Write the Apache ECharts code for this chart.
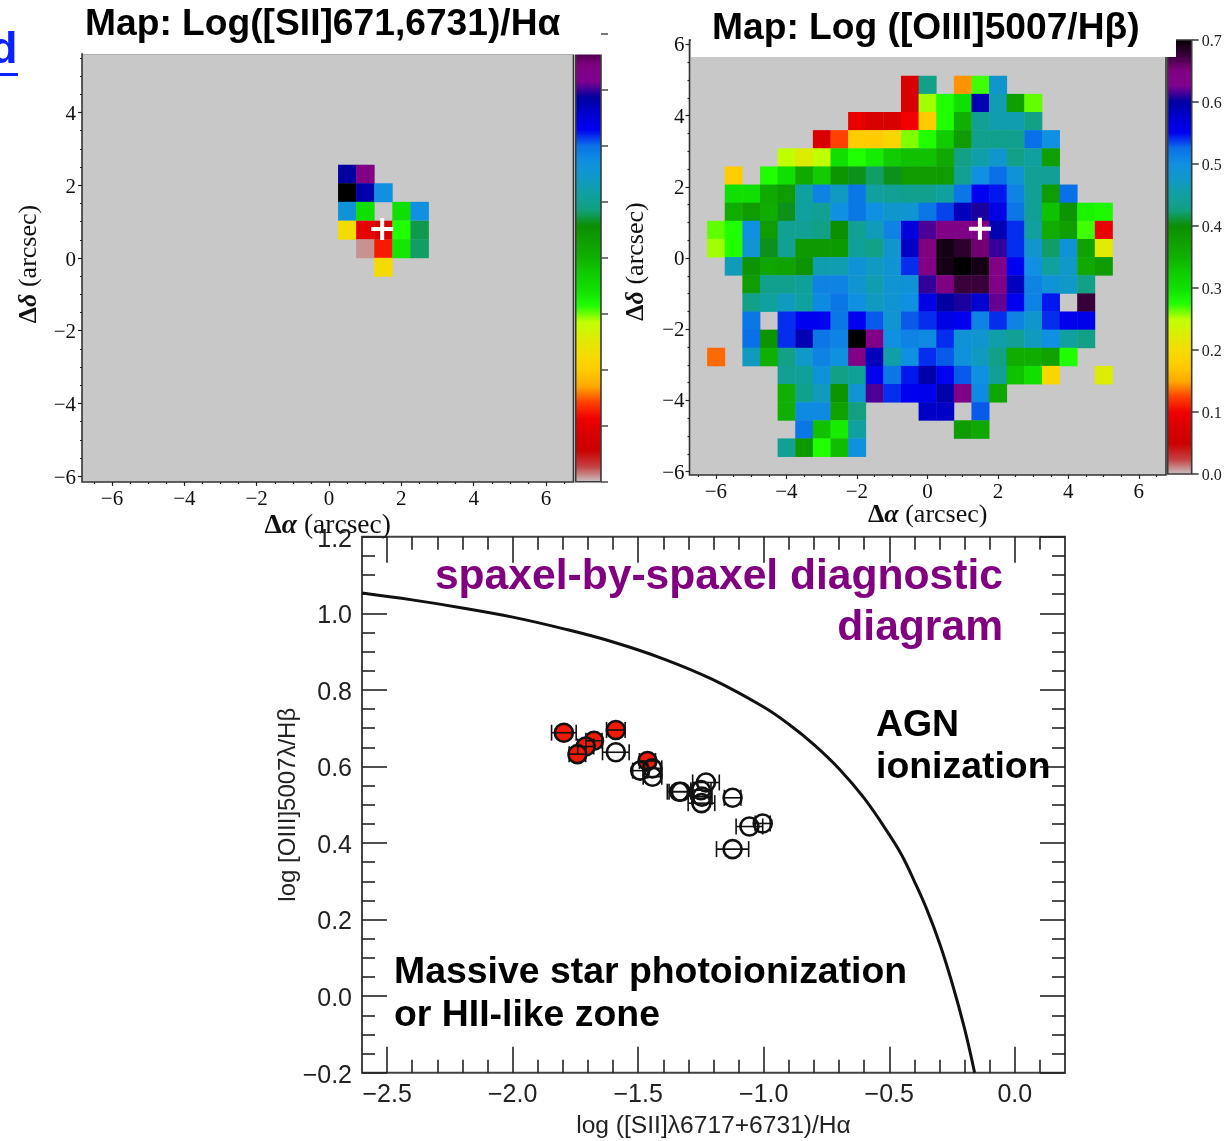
<!DOCTYPE html>
<html><head><meta charset="utf-8">
<style>html,body{margin:0;padding:0;background:#fff}#c{width:1227px;height:1141px}</style>
<script src="https://cdn.jsdelivr.net/npm/echarts@6/dist/echarts.min.js"></script>
</head><body><div id="c"></div>
<script>
// ---------- colour scale ----------
const scaleColors = ['#c8c8c8','#c44040','#cc0000','#d80000','#f00000','#ff4000','#ffa800','#ffcc00','#f5dc00','#dcec00','#c0ff00','#20ff00','#10e000','#10cc00','#10b000','#0f9f00','#0a8f00','#12a080','#10a0a0','#1098c8','#1090e0','#0a70e8','#0000f0','#0000d0','#0000a0','#800090','#800080','#380038','#000000'];
const scaleTicks = [0,0.1,0.2,0.3,0.4,0.5,0.6,0.7];
const leftBarTicks = [0,0.0875,0.175,0.2625,0.35,0.4375,0.525,0.6125,0.7];

// ---------- left map: [SII]/Halpha ----------
const leftX = [0.5,1,1.5,2,2.5];
const leftY = [2.31,1.80,1.29,0.77,0.26,-0.25];
const leftRows = [
  [0.6,0.64,null,null,null],
  [0.7,0.595,0.5,null,null],
  [0.49,0.3,null,0.3,0.5],
  [0.2,0.09,0.07,0.275,0.415],
  [null,0.01,0.11,0.295,0.42],
  [null,null,0.2,null,null]
];
const leftCross = [[1.47,0.8]];

// ---------- right map: [OIII]/Hbeta ----------
const rightX = [-6,-5.5,-5,-4.5,-4,-3.5,-3,-2.5,-2,-1.5,-1,-0.5,0,0.5,1,1.5,2,2.5,3,3.5,4,4.5,5];
const rightY = [4.865,4.356,3.846,3.337,2.827,2.318,1.809,1.299,0.79,0.28,-0.229,-0.739,-1.248,-1.757,-2.267,-2.776,-3.285,-3.795,-4.304,-4.814,-5.323];
const N = null;
const rightRows = [
  [N,N,N,N,N,N,N,N,N,N,N,.075,.43,N,.145,.27,.48,N,N,N,N,N,N],
  [N,N,N,N,N,N,N,N,N,N,N,.075,.255,.275,.3,.59,.46,.375,.265,N,N,N,N],
  [N,N,N,N,N,N,N,N,.09,.075,.075,.1,.175,.275,.35,.44,.46,.46,.43,N,N,N,N],
  [N,N,N,N,N,N,.075,.125,.175,.175,.19,.26,.275,.325,.38,.435,.435,.435,.525,.5,N,N,N],
  [N,N,N,N,.25,.225,.25,.3,.275,.29,.325,.335,.335,.36,.43,.455,.48,.43,.45,.375,N,N,N],
  [N,.175,N,.275,.3,.36,.325,.39,.405,.42,.405,.38,.38,.38,.44,.5,.525,.49,.44,.44,N,N,N],
  [N,.3,.3,.36,.38,.45,.51,.47,.52,.45,.44,.435,.435,.45,.52,.55,.545,.51,.44,.38,.525,N,N],
  [N,.355,.38,.355,.405,.45,.44,.5,.52,.5,.48,.485,.52,.535,.585,.605,.56,.52,.44,.335,.39,.285,.28],
  [.265,.275,.5,.38,.44,.44,.43,.4,.44,.465,.51,.565,.615,.64,.64,.645,.59,.54,.45,.355,.375,.27,.095],
  [.255,.275,.485,.405,.44,.385,.385,.385,.445,.43,.48,.58,.65,.69,.68,.655,.61,.54,.48,.42,.49,.37,.22],
  [N,.465,.39,.365,.37,.39,.46,.46,.49,.47,.485,.54,.64,.69,.7,.69,.64,.55,.5,.45,.475,.36,.38],
  [N,N,.38,.435,.435,.445,.51,.51,.485,.46,.485,.49,.61,.645,.675,.675,.64,.585,.51,.49,.475,.43,N],
  [N,N,.43,.45,.47,.45,.505,.52,.5,.47,.485,.5,.56,.6,.605,.575,.62,.55,.51,.545,N,.675,N],
  [N,N,.52,N,.54,.55,.55,.52,.55,.53,.485,.53,.54,.56,.55,.51,.54,.51,.48,.54,.555,.555,N],
  [N,N,.525,.39,.54,.59,.52,.51,.7,.64,.5,.51,.505,.54,.49,.48,.455,.44,.47,.5,.45,.43,N],
  [.135,N,.47,.35,.43,.475,.51,.5,.64,.585,.455,.5,.54,.53,.495,.47,.43,.355,.355,.37,.275,N,N],
  [N,N,N,N,.44,.445,.495,.43,.445,.555,.52,.545,.595,.55,.53,.5,.44,.335,.3,.19,N,N,.225],
  [N,N,N,N,.35,.435,.47,.39,.485,.615,.54,.55,.555,.595,.64,.505,.365,N,N,N,N,N,N],
  [N,N,N,N,.35,.505,.505,.37,.425,N,N,N,.58,.58,N,.53,N,N,N,N,N,N,N],
  [N,N,N,N,N,.52,.335,.29,.45,N,N,N,N,N,.38,.36,N,N,N,N,N,N,N],
  [N,N,N,N,.44,.385,.275,.34,.495,N,N,N,N,N,N,N,N,N,N,N,N,N,N]
];
const rightCross = [[1.49,0.82]];

// ---------- map axis ticks ----------
const mapMajor = [-6,-4,-2,0,2,4,6];
const mapMinor = [-6.5,-5.5,-5,-4.5,-3.5,-3,-2.5,-1.5,-1,-0.5,0.5,1,1.5,2.5,3,3.5,4.5,5,5.5,6.5];
const mapMajorY = [-6,-4,-2,0,2,4];
const mapMajorYR = [-6,-4,-2,0,2,4,6];
const mapMinorYL = [-5.5,-5,-4.5,-3.5,-3,-2.5,-1.5,-1,-0.5,0.5,1,1.5,2.5,3,3.5,4.5,5,5.5];
const mapMinorYR = [-5.5,-5,-4.5,-3.5,-3,-2.5,-1.5,-1,-0.5,0.5,1,1.5,2.5,3,3.5,4.5,5,5.5];

// ---------- diagnostic diagram ----------
const redX   = [-1.796,-1.589,-1.676,-1.709,-1.742,-1.463];
const redY   = [0.688,0.695,0.667,0.652,0.632,0.614];
const redErr = [0.049,0.037,0.032,0.032,0.033,0.032];
const openX  = [-1.589,-1.492,-1.443,-1.443,-1.337,-1.33,-1.23,-1.25,-1.246,-1.248,-1.124,-1.057,-1.004,-1.124];
const openY  = [0.637,0.589,0.595,0.573,0.534,0.534,0.558,0.538,0.521,0.504,0.518,0.443,0.451,0.384];
const openErr= [0.053,0.03,0.037,0.037,0.047,0.047,0.053,0.04,0.04,0.053,0.033,0.053,0.03,0.064];
const curveX = [-2.6,-2.4,-2.2,-2.0,-1.8,-1.6,-1.4,-1.2,-1.0,-0.9,-0.8,-0.7,-0.6,-0.5,-0.45,-0.4,-0.35,-0.3,-0.25,-0.2,-0.16];
const curveY = [1.053,1.035,1.014,0.990,0.960,0.925,0.881,0.826,0.755,0.710,0.657,0.594,0.517,0.422,0.368,0.300,0.226,0.139,0.035,-0.085,-0.2];
const bptMajorX = [-2.5,-2,-1.5,-1,-0.5,0];
const bptMinorX = [-2.4,-2.3,-2.2,-2.1,-1.9,-1.8,-1.7,-1.6,-1.4,-1.3,-1.2,-1.1,-0.9,-0.8,-0.7,-0.6,-0.4,-0.3,-0.2,-0.1,0.1];
const bptMajorY = [-0.2,0,0.2,0.4,0.6,0.8,1.0,1.2];
const bptMinorY = [-0.15,-0.1,-0.05,0.05,0.1,0.15,0.25,0.3,0.35,0.45,0.5,0.55,0.65,0.7,0.75,0.85,0.9,0.95,1.05,1.1,1.15];

// ---------- helpers ----------
const fmtInt = v => String(v).replace('-', '\u2212');
const fmtOne = v => Number(v).toFixed(1).replace('-', '\u2212');
const SERIF = '"Liberation Serif"', SANS = '"Liberation Sans"';
const xAxes = [], yAxes = [];
const off = {show:false};

function axis(list, o) {
  const a = {
    type:'value', gridIndex:o.grid, min:o.min, max:o.max, scale:false,
    position:o.pos, z:o.z || 6,
    axisLine:{show:!!o.line, onZero:false, lineStyle:{color:'#444', width:2}},
    splitLine:off, minorTick:off,
    axisTick:{show:!!o.ticks, inside:!!o.inside, length:o.len, customValues:o.ticks, lineStyle:{color:o.tickColor||'#222', width:o.tickWidth||1.2}},
    axisLabel:o.labels ? {show:true, customValues:o.labels, formatter:o.fmt, fontFamily:o.font, fontSize:o.size, color:o.color||'#111', margin:o.margin, showMinLabel:true, showMaxLabel:true, hideOverlap:false} : off
  };
  if (o.dy) { a.axisLabel.verticalAlign = 'top'; a.axisLabel.lineHeight = 2 * o.dy; }
  if (o.name) {
    a.name = o.name; a.nameLocation = 'middle'; a.nameGap = o.gap;
    a.nameTextStyle = o.nameStyle;
    a.nameRotate = o.nameRotate;
    a.nameMoveOverlap = false;
  }
  list.push(a);
  return list.length - 1;
}
const deltaStyle = (size, padding) => ({
  fontFamily:SERIF, fontSize:size, color:'#111', padding:padding || 0,
  rich:{ b:{fontFamily:SERIF,fontSize:size,fontWeight:'bold',color:'#111'},
         i:{fontFamily:SERIF,fontSize:size,fontStyle:'italic',fontWeight:'bold',color:'#111'},
         t:{fontFamily:SERIF,fontSize:size,color:'#111'} }
});

const bounds = {outerBoundsMode:'none'};
const grids = [
  {...bounds,left:82, top:54, width:491.5, height:428, show:true, backgroundColor:'#c8c8c8', borderColor:'#333', borderWidth:1.6},
  {...bounds,left:575.7, top:34, width:25.3, height:447.7},
  {...bounds,left:689.5, top:40, width:476.5, height:435, show:true, backgroundColor:'#c8c8c8', borderColor:'#333', borderWidth:1.6},
  {...bounds,left:1167.7, top:40, width:24, height:434},
  {...bounds,left:362, top:536.7, width:703, height:536, show:true, backgroundColor:'transparent', borderColor:'#444', borderWidth:2, z:6}
];

// left map axes (index 0 = data)
const xL = axis(xAxes,{grid:0,min:-6.83,max:6.76,pos:'bottom',ticks:mapMajor,len:4,labels:mapMajor,fmt:fmtInt,font:SERIF,size:21,margin:7,
  name:'{b|\u0394}{i|\u03b1}{t| (arcsec)}',gap:30,nameStyle:deltaStyle(27.5)});
axis(xAxes,{grid:0,min:-6.83,max:6.76,pos:'bottom',ticks:mapMinor,len:2});
const yL = axis(yAxes,{grid:0,min:-6.16,max:5.61,pos:'left',ticks:mapMajorY,len:4,labels:mapMajorY,fmt:fmtInt,font:SERIF,size:21,margin:6,dy:2,
  name:'{b|\u0394}{i|\u03b4}{t| (arcsec)}',gap:40,nameStyle:deltaStyle(26,[0,0,0,8]),nameRotate:90});
axis(yAxes,{grid:0,min:-6.16,max:5.61,pos:'left',ticks:mapMinorYL,len:2});
// left colour bar
const xLB = axis(xAxes,{grid:1,min:0,max:1,pos:'bottom'});
const yLB = axis(yAxes,{grid:1,min:0,max:0.7,pos:'right',ticks:leftBarTicks,len:7,tickColor:'#555',tickWidth:1.6,z:7});
// right map axes
const xR = axis(xAxes,{grid:2,min:-6.75,max:6.77,pos:'bottom',ticks:mapMajor,len:4,labels:mapMajor,fmt:fmtInt,font:SERIF,size:21,margin:7,
  name:'{b|\u0394}{i|\u03b1}{t| (arcsec)}',gap:27,nameStyle:deltaStyle(26)});
axis(xAxes,{grid:2,min:-6.75,max:6.77,pos:'bottom',ticks:mapMinor,len:2});
const yR = axis(yAxes,{grid:2,min:-6.096,max:6.124,pos:'left',ticks:mapMajorYR,len:4,labels:mapMajorYR,fmt:fmtInt,font:SERIF,size:21,margin:5,dy:1.5,
  name:'{b|\u0394}{i|\u03b4}{t| (arcsec)}',gap:40,nameStyle:deltaStyle(26,[0,8,0,0]),nameRotate:90});
axis(yAxes,{grid:2,min:-6.096,max:6.124,pos:'left',ticks:mapMinorYR,len:2});
// right colour bar
const xRB = axis(xAxes,{grid:3,min:0,max:1,pos:'bottom'});
const yRB = axis(yAxes,{grid:3,min:0,max:0.7,pos:'right',ticks:scaleTicks,len:7,tickColor:'#444',tickWidth:1.6,labels:scaleTicks,fmt:fmtOne,font:SERIF,size:16,margin:10,color:'#222',dy:2});
// diagram axes
const bx = {grid:4,min:-2.6,max:0.2,inside:true,tickColor:'#222',tickWidth:1.6,z:7};
const by = {grid:4,min:-0.2,max:1.2,inside:true,tickColor:'#222',tickWidth:1.6,z:7};
const xB = axis(xAxes,{...bx,pos:'bottom',ticks:bptMajorX,len:26,labels:bptMajorX,fmt:fmtOne,font:SANS,size:25,margin:10,color:'#222',
  name:'log ([SII]\u03bb6717+6731)/H\u03b1',gap:41,nameStyle:{fontFamily:SANS,fontSize:24.6,color:'#222'}});
axis(xAxes,{...bx,pos:'bottom',ticks:bptMinorX,len:13});
axis(xAxes,{...bx,pos:'top',ticks:bptMajorX,len:26});
axis(xAxes,{...bx,pos:'top',ticks:bptMinorX,len:13});
const yB = axis(yAxes,{...by,pos:'left',ticks:bptMajorY,len:25,labels:bptMajorY,fmt:fmtOne,font:SANS,size:25,margin:10,color:'#222',dy:3,
  name:'log [OIII]5007\u03bb/H\u03b2',gap:62,nameStyle:{fontFamily:SANS,fontSize:24,color:'#222'},nameRotate:90});
axis(yAxes,{...by,pos:'left',ticks:bptMinorY,len:13});
axis(yAxes,{...by,pos:'right',ticks:bptMajorY,len:25});
axis(yAxes,{...by,pos:'right',ticks:bptMinorY,len:13});

// ---------- series builders ----------
function toCells(xs, ys, rows) {
  const out = [];
  rows.forEach((row, j) => row.forEach((v, i) => { if (v !== null) out.push([xs[i], ys[j], v]); }));
  return out;
}
function cellRender(hx, hy) {
  return (params, api) => {
    const x = api.value(0), y = api.value(1);
    const a = api.coord([x - hx, y + hy]), b = api.coord([x + hx, y - hy]);
    return {type:'rect', shape:{x:a[0], y:a[1], width:b[0]-a[0]+0.4, height:b[1]-a[1]+0.4}, style:{fill:api.visual('color')}};
  };
}
function barRender(params, api) {
  const a = api.coord([0, api.value(1)]), b = api.coord([1, api.value(0)]);
  const n = scaleColors.length - 1;
  return {type:'rect', shape:{x:a[0], y:a[1], width:b[0]-a[0], height:b[1]-a[1]},
    style:{stroke:'#3a3a3a', lineWidth:1.6,
      fill:new echarts.graphic.LinearGradient(0,1,0,0, scaleColors.map((c,i)=>({offset:i/n,color:c})))}};
}
function errRender(params, api) {
  const x = api.value(0), y = api.value(1), e = api.value(2);
  const a = api.coord([x - e, y]), b = api.coord([x + e, y]);
  const h = 8;
  const st = {stroke:'#111', lineWidth:1.6, fill:null};
  return {type:'group', children:[
    {type:'line', shape:{x1:a[0],y1:a[1],x2:b[0],y2:b[1]}, style:st},
    {type:'line', shape:{x1:a[0],y1:a[1]-h,x2:a[0],y2:a[1]+h}, style:st},
    {type:'line', shape:{x1:b[0],y1:b[1]-h,x2:b[0],y2:b[1]+h}, style:st}
  ]};
}
const CROSS = 'path://M9 0h4v9h9v4h-9v9h-4v-9H0v-4h9z';
const zipPts = (xs, ys) => xs.map((x,i)=>[x, ys[i]]);
const zipErr = (xs, ys, es) => xs.map((x,i)=>[x, ys[i], es[i]]);

const series = [
  {type:'custom', name:'left map', xAxisIndex:xL, yAxisIndex:yL, z:2, renderItem:cellRender(0.25,0.255), encode:{x:0,y:1}, data:toCells(leftX,leftY,leftRows), silent:true, animation:false},
  {type:'custom', name:'right map', xAxisIndex:xR, yAxisIndex:yR, z:2, renderItem:cellRender(0.25,0.2547), encode:{x:0,y:1}, data:toCells(rightX,rightY,rightRows), silent:true, animation:false},
  {type:'custom', name:'left bar', xAxisIndex:xLB, yAxisIndex:yLB, z:2, renderItem:barRender, data:[[0,0.7]], silent:true, animation:false},
  {type:'custom', name:'right bar', xAxisIndex:xRB, yAxisIndex:yRB, z:2, renderItem:barRender, data:[[0,0.7]], silent:true, animation:false},
  {type:'scatter', name:'left cross', xAxisIndex:xL, yAxisIndex:yL, z:5, symbol:CROSS, symbolSize:22, itemStyle:{color:'#fff',opacity:1}, data:leftCross, silent:true, animation:false},
  {type:'scatter', name:'right cross', xAxisIndex:xR, yAxisIndex:yR, z:5, symbol:CROSS, symbolSize:22, itemStyle:{color:'#fff',opacity:1}, data:rightCross, silent:true, animation:false},
  {type:'line', name:'boundary', xAxisIndex:xB, yAxisIndex:yB, z:8, smooth:0.4, showSymbol:false, symbol:'none', clip:true, lineStyle:{color:'#111',width:3}, data:zipPts(curveX,curveY), silent:true, animation:false},
  {type:'scatter', name:'red', xAxisIndex:xB, yAxisIndex:yB, z:8, symbol:'circle', symbolSize:18, itemStyle:{color:'#f01a08',borderColor:'#111',borderWidth:2.6,opacity:1}, data:zipPts(redX,redY), silent:true, animation:false},
  {type:'scatter', name:'open', xAxisIndex:xB, yAxisIndex:yB, z:8, symbol:'circle', symbolSize:18, itemStyle:{color:'rgba(0,0,0,0)',borderColor:'#111',borderWidth:2.6,opacity:1}, data:zipPts(openX,openY), silent:true, animation:false},
  {type:'custom', name:'red err', xAxisIndex:xB, yAxisIndex:yB, z:9, renderItem:errRender, data:zipErr(redX,redY,redErr), silent:true, animation:false},
  {type:'custom', name:'open err', xAxisIndex:xB, yAxisIndex:yB, z:9, renderItem:errRender, data:zipErr(openX,openY,openErr), silent:true, animation:false}
];

const bold = (size, c) => ({fontFamily:SANS, fontWeight:'bold', fontSize:size, color:c || '#000'});
const option = {
  backgroundColor:'#fff', animation:false,
  grid:grids, xAxis:xAxes, yAxis:yAxes, series,
  visualMap:{show:false, type:'continuous', min:0, max:0.7, dimension:2, seriesIndex:[0,1], inRange:{color:scaleColors}},
  title:[
    {text:'Map: Log([SII]671,6731)/H\u03b1', left:85, top:6, padding:0, z:9, textStyle:bold(37.2)},
    {text:'Map: Log ([OIII]5007/H\u03b2)', left:712, top:10, padding:0, z:9, textStyle:bold(37.2)}
  ],
  graphic:[
    {type:'rect', z:4, silent:true, shape:{x:691,y:0,width:485,height:57}, style:{fill:'#fff'}},
    {type:'rect', z:4, silent:true, shape:{x:83,y:44,width:523,height:10.6}, style:{fill:'#fff'}},
    {type:'rect', z:4, silent:true, shape:{x:570,y:28,width:36,height:26}, style:{fill:'#fff'}},
    {type:'rect', z:4, silent:true, shape:{x:200,y:528,width:500,height:9}, style:{fill:'#fff'}},
    {type:'text', z:9, silent:true, style:{text:'d', x:-10, y:51, font:'bold 45px "Liberation Sans"', fill:'#0a22ff', textVerticalAlign:'middle'}},
    {type:'rect', z:9, silent:true, shape:{x:0,y:73,width:18,height:3}, style:{fill:'#0a22ff'}},
    {type:'text', z:9, silent:true, style:{text:'spaxel-by-spaxel diagnostic', x:1003, y:577, font:'bold 42.6px "Liberation Sans"', fill:'#800080', textAlign:'right', textVerticalAlign:'middle'}},
    {type:'text', z:9, silent:true, style:{text:'diagram', x:1003, y:628, font:'bold 42.6px "Liberation Sans"', fill:'#800080', textAlign:'right', textVerticalAlign:'middle'}},
    {type:'text', z:9, silent:true, style:{text:'AGN', x:876, y:726, font:'bold 37.4px "Liberation Sans"', fill:'#000', textVerticalAlign:'middle'}},
    {type:'text', z:9, silent:true, style:{text:'ionization', x:876, y:768, font:'bold 37.4px "Liberation Sans"', fill:'#000', textVerticalAlign:'middle'}},
    {type:'text', z:9, silent:true, style:{text:'Massive star photoionization', x:394, y:973, font:'bold 37.4px "Liberation Sans"', fill:'#000', textVerticalAlign:'middle'}},
    {type:'text', z:9, silent:true, style:{text:'or HII-like zone', x:394, y:1016, font:'bold 37.4px "Liberation Sans"', fill:'#000', textVerticalAlign:'middle'}}
  ]
};
echarts.init(document.getElementById('c'), null, {renderer:'canvas'}).setOption(option);
</script>
</body></html>
